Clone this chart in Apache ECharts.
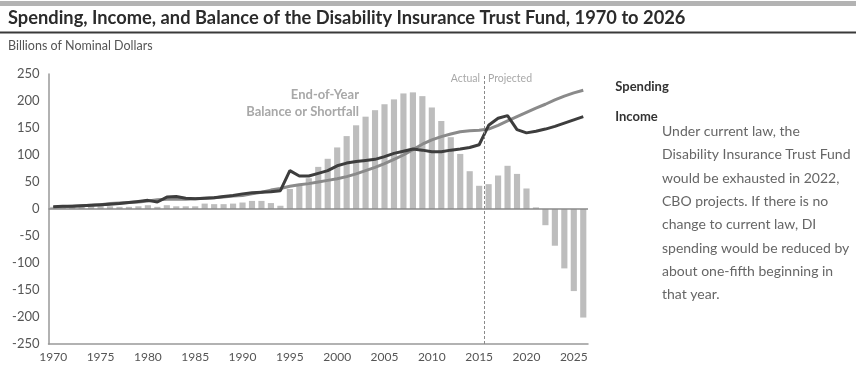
<!DOCTYPE html>
<html>
<head>
<meta charset="utf-8">
<script src="https://cdn.jsdelivr.net/npm/echarts@6/dist/echarts.min.js"></script>
<style>
  html, body { margin: 0; padding: 0; background: #fff; }
  #main { width: 856px; height: 370px; }
</style>
</head>
<body>
<div id="main"></div>
<script>
// years 1970..2026
var years = [];
for (var y = 1970; y <= 2026; y++) years.push(String(y));

// end-of-year balance or shortfall, billions
var balance = [
  4, 5, 6, 6, 6, 6, 5, 4, 4, 5,
  7, 4, 7, 5, 5, 5, 10, 9, 9, 10,
  12, 15, 15, 11, 6,
  37, 46, 57, 78, 93, 114, 135, 155, 171, 183,
  194, 203, 214, 216, 209, 188, 163, 133, 102, 70,
  43, 46, 62, 80, 65, 38, 3, -30, -68, -110,
  -152, -201
];

var income = [
  4, 5, 5, 6, 7, 8, 9, 10, 12, 14,
  16, 13, 22, 23, 20, 19, 20, 21, 23, 25,
  28, 30, 31, 32, 34,
  71, 61, 61, 66, 71, 80, 85, 88, 90, 92,
  97, 103, 107, 111, 109, 106, 106, 109, 111, 114,
  119, 155, 168, 173, 147, 141, 144, 148, 153, 159,
  165, 171
];

var spending = [
  3, 4, 5, 6, 7, 8, 10, 11, 12, 13,
  15, 17, 18, 18, 18, 19, 20, 21, 22, 24,
  25, 28, 31, 35, 38,
  42, 45, 47, 50, 53, 56, 60, 65, 71, 77,
  84, 92, 100, 110, 120, 128, 134, 139, 143, 145,
  146, 148, 155, 163, 171, 179, 187, 194, 202, 209,
  215, 220
];

var yTicks = [-250, 250, 50]; // min, max, interval
var splitYear = 2015.5;       // actual | projected

var chart = echarts.init(document.getElementById('main'));
var font = 'Lato, "Noto Sans", sans-serif';

var option = {
  animation: false,
  textStyle: { fontFamily: font },
  grid: { left: 48.5, right: 268, top: 74, bottom: 26, containLabel: false, outerBoundsMode: 'none' },
  graphic: [
    { type: 'rect', left: 0, top: 1, shape: { width: 856, height: 5 }, style: { fill: '#b3b3b3' } },
    { type: 'text', left: 8, top: 9, style: { text: 'Spending, Income, and Balance of the Disability Insurance Trust Fund, 1970 to 2026', font: 'bold 18.3px ' + font, fill: '#2b2b2b' } },
    { type: 'rect', left: 0, top: 31.5, shape: { width: 856, height: 2 }, style: { fill: '#3a3a3a' } },
    { type: 'text', left: 8, top: 39, style: { text: 'Billions of Nominal Dollars', font: '12.5px ' + font, fill: '#555' } },
    { type: 'text', right: 497, top: 88, style: { text: 'End-of-Year', font: 'bold 13px ' + font, fill: '#a8a8a8' } },
    { type: 'text', right: 497, top: 105, style: { text: 'Balance or Shortfall', font: 'bold 13px ' + font, fill: '#a8a8a8' } },
    { type: 'text', right: 376, top: 73, style: { text: 'Actual', font: '10.5px ' + font, fill: '#a8a8a8' } },
    { type: 'text', left: 488, top: 73, style: { text: 'Projected', font: '10.5px ' + font, fill: '#a8a8a8' } },
    { type: 'text', left: 662, top: 120, style: {
      text: 'Under current law, the\nDisability Insurance Trust Fund\nwould be exhausted in 2022,\nCBO projects. If there is no\nchange to current law, DI\nspending would be reduced by\nabout one-fifth beginning in\nthat year.',
      font: '14px ' + font, fill: '#666', lineHeight: 23.3 } }
  ],
  xAxis: [
    {
      type: 'category',
      data: years,
      boundaryGap: true,
      axisLine: { onZero: false, lineStyle: { color: '#999', width: 1.5 } },
      axisTick: { inside: true, length: 4, interval: 4, alignWithLabel: true, lineStyle: { color: '#999' } },
      axisLabel: { interval: 4, color: '#555', fontSize: 12, margin: 7 }
    },
    { type: 'value', min: 1969.5, max: 2026.5, show: false }
  ],
  yAxis: {
    type: 'value',
    min: yTicks[0], max: yTicks[1], interval: yTicks[2],
    axisLine: { show: true, lineStyle: { color: '#999', width: 1.5 } },
    axisTick: { show: false },
    splitLine: { show: false },
    axisLabel: { color: '#555', fontSize: 13, margin: 9 }
  },
  series: [
    {
      name: 'Balance',
      type: 'bar',
      data: balance,
      barWidth: '65%',
      itemStyle: { color: '#bdbdbd' },
      markLine: {
        silent: true, symbol: 'none', label: { show: false },
        lineStyle: { color: '#8a8a8a', width: 1.5, type: 'solid' },
        data: [{ yAxis: 0 }]
      }
    },
    {
      name: 'Spending',
      type: 'line',
      data: spending,
      symbol: 'none',
      lineStyle: { color: '#8a8a8a', width: 3 },
      endLabel: { show: true, formatter: 'Spending', color: '#333', fontWeight: 'bold', fontSize: 13, distance: 32, offset: [0, -3] }
    },
    {
      name: 'Income',
      type: 'line',
      data: income,
      symbol: 'none',
      lineStyle: { color: '#3d3d3d', width: 3 },
      endLabel: { show: true, formatter: 'Income', color: '#333', fontWeight: 'bold', fontSize: 13, distance: 32 }
    },
    {
      name: 'split',
      type: 'line',
      xAxisIndex: 1,
      data: [],
      markLine: {
        silent: true, symbol: 'none', label: { show: false },
        lineStyle: { color: '#8a8a8a', width: 1, type: [3, 2] },
        data: [[{ xAxis: splitYear, y: 76 }, { xAxis: splitYear, yAxis: yTicks[0] }]]
      }
    }
  ]
};

chart.setOption(option);
</script>
</body>
</html>
